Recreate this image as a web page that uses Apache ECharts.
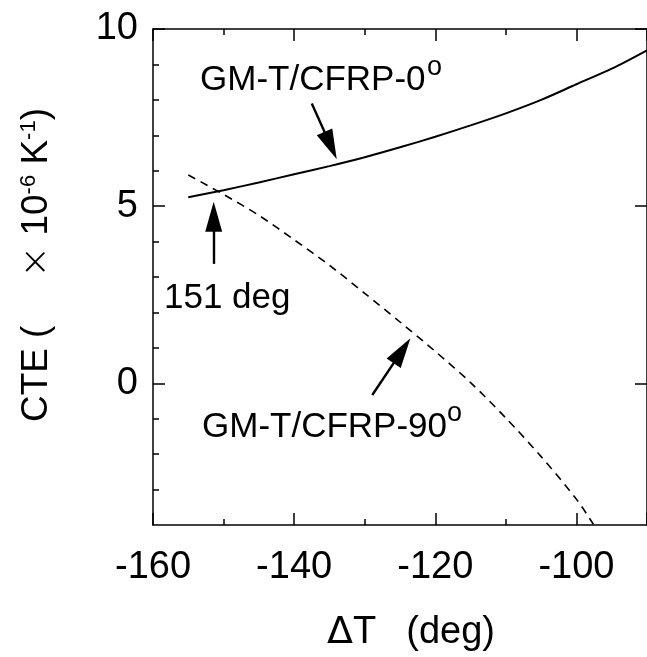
<!DOCTYPE html>
<html>
<head>
<meta charset="utf-8">
<script src="https://cdn.jsdelivr.net/npm/echarts@6/dist/echarts.min.js"></script>
<style>
  html, body { margin: 0; padding: 0; background: #fff; }
  #chart { width: 647px; height: 657px; }
</style>
</head>
<body>
<div id="chart"></div>
<script>
// Temperature difference (deg) and CTE (x10^-6 /K) for the two laminates
const deltaT0 = [-155, -150, -145, -140, -135, -130, -125, -120, -115, -110, -105, -100, -95, -90];
const cte0    = [5.25, 5.45, 5.67, 5.90, 6.13, 6.38, 6.66, 6.96, 7.28, 7.62, 8.00, 8.44, 8.88, 9.40];

const deltaT90 = [-155, -150, -145, -140, -135, -130, -125, -120, -115, -110, -105, -100, -97.6];
const cte90    = [5.88, 5.33, 4.74, 4.05, 3.33, 2.54, 1.73, 0.90, 0.02, -0.98, -2.07, -3.27, -3.98];

// Axis ticks
const xTickValues = [-160, -140, -120, -100];
const yMajorTicks = [0, 5, 10];
const yMinorTicks = [-3, -2, -1, 1, 2, 3, 4, 6, 7, 8, 9];

// Crossing point of the two curves
const crossT = -151.4;

// Arrow annotations: [start, end] in data units (end is the arrow-head centre)
const arrow0  = [[-137.5, 7.90], [-134.83, 6.71]];
const arrowX  = [[crossT, 3.37], [crossT, 4.70]];
const arrow90 = [[-128.93, -0.33], [-124.71, 0.92]];

const FONT = 'Liberation Sans, Arial, Helvetica, sans-serif';

const chart = echarts.init(document.getElementById('chart'), null, { renderer: 'canvas' });

function zip(xs, ys) { return xs.map((x, i) => [x, ys[i]]); }

const axisLineStyle = { color: '#000', width: 1.5 };

function xAxisCfg(pos, showLabel) {
  return {
    type: 'value', position: pos, min: -160, max: -90, interval: 20,
    axisLine: { show: true, onZero: false, lineStyle: axisLineStyle },
    axisTick: { show: true, inside: true, length: 12, lineStyle: axisLineStyle },
    minorTick: { show: true, splitNumber: 2, length: 6, lineStyle: axisLineStyle },
    axisLabel: {
      show: showLabel, color: '#000', fontSize: 38, fontFamily: FONT, margin: 24,
      customValues: xTickValues
    },
    splitLine: { show: false }, minorSplitLine: { show: false }
  };
}

function yAxisCfg(pos, major, showLine) {
  return {
    type: 'value', position: pos, min: -4, max: 10,
    axisLine: { show: showLine, onZero: false, lineStyle: axisLineStyle },
    axisTick: {
      show: true, inside: true, length: major ? 12 : 6, lineStyle: axisLineStyle,
      customValues: major ? yMajorTicks : yMinorTicks
    },
    axisLabel: {
      show: major && pos === 'left', color: '#000', fontSize: 38, fontFamily: FONT, margin: 15,
      customValues: yMajorTicks
    },
    splitLine: { show: false }
  };
}

function arrowItem(seg) {
  return [
    { coord: seg[0], symbol: 'none' },
    { coord: seg[1], symbol: 'triangle', symbolSize: [17, 30] }
  ];
}

// Degree-style superscript "o" placed after a curve label
function degreeMark(x, y) {
  return {
    type: 'text', x: x, y: y,
    style: { text: 'o', fontSize: 27, fontFamily: FONT, fill: '#000', align: 'left', verticalAlign: 'middle' }
  };
}

const option = {
  animation: false,
  backgroundColor: '#fff',
  grid: { left: 153, top: 29, width: 504, height: 496, containLabel: false },
  xAxis: [xAxisCfg('bottom', true), xAxisCfg('top', false)],
  yAxis: [
    yAxisCfg('left', true, true),
    yAxisCfg('left', false, false),
    yAxisCfg('right', true, true)
  ],
  series: [
    {
      name: 'GM-T/CFRP-0', type: 'line', data: zip(deltaT0, cte0),
      smooth: 0.3, showSymbol: false, clip: true,
      lineStyle: { color: '#000', width: 2, type: 'solid' },
      markLine: {
        silent: true, animation: false,
        label: { show: false },
        lineStyle: { color: '#000', width: 2.4, type: 'solid' },
        emphasis: { disabled: true },
        data: [arrowItem(arrow0), arrowItem(arrowX), arrowItem(arrow90)]
      }
    },
    {
      name: 'GM-T/CFRP-90', type: 'line', data: zip(deltaT90, cte90),
      smooth: 0.3, showSymbol: false, clip: true,
      lineStyle: { color: '#000', width: 1.6, type: [8, 6] }
    }
  ],
  graphic: [
    {
      type: 'text', left: 200, top: 63,
      style: { text: 'GM-T/CFRP-0', fontSize: 35, fontFamily: FONT, fill: '#000' }
    },
    degreeMark(427, 68),
    {
      type: 'text', left: 202, top: 410,
      style: { text: 'GM-T/CFRP-90', fontSize: 35, fontFamily: FONT, fill: '#000' }
    },
    degreeMark(447, 414),
    {
      type: 'text', left: 164, top: 281,
      style: { text: '151 deg', fontSize: 35, fontFamily: FONT, fill: '#000' }
    },
    {
      type: 'text', x: 411, y: 633,
      style: {
        text: '{d|Δ}{a|T}{g| }{a|(deg)}',
        align: 'center', verticalAlign: 'middle',
        rich: {
          d: { fontSize: 38, fontFamily: 'DejaVu Sans', fill: '#000' },
          a: { fontSize: 38, fontFamily: FONT, fill: '#000' },
          g: { fontSize: 38, width: 30 }
        }
      }
    },
    {
      type: 'text', x: 37, y: 265, rotation: Math.PI / 2,
      style: {
        text: '{a|CTE}{g| }{a|(}{h| }{x|×}{a| 10}{s|-6}{a| K}{s|-1}{a|)}',
        align: 'center', verticalAlign: 'middle',
        rich: {
          a: { fontSize: 37, lineHeight: 37, fontFamily: FONT, fill: '#000' },
          g: { fontSize: 37, width: 10 },
          h: { fontSize: 37, width: 48 },
          x: { fontSize: 38, fontFamily: 'DejaVu Sans', fontWeight: 200, fill: '#000' },
          s: { fontSize: 22, lineHeight: 12, fontFamily: FONT, fill: '#000', verticalAlign: 'top' }
        }
      }
    }
  ]
};

chart.setOption(option);
</script>
</body>
</html>
